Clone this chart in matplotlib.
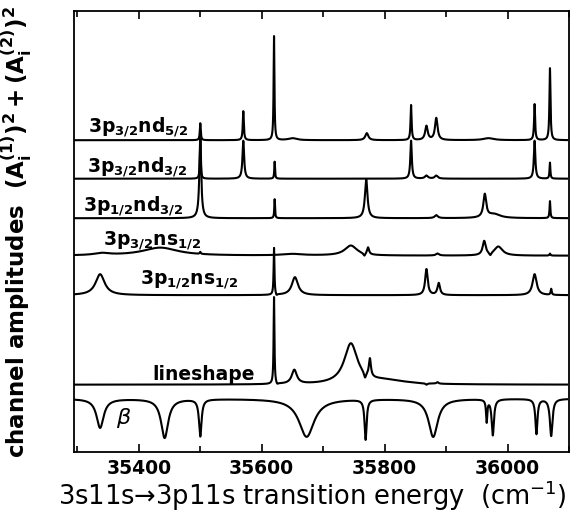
import numpy as np
import matplotlib
matplotlib.use("Agg")
import matplotlib.pyplot as plt

plt.rcParams['font.family'] = ['DejaVu Sans']
plt.rcParams['mathtext.default'] = 'regular'

# ---- data: peaks (center cm^-1, height, half-width) ----
x_range = (35295, 36097)

nd52_center = [35500, 35570, 35620, 35650, 35771, 35843, 35868, 35884, 35969, 36044, 36069]
nd52_height = [17, 29, 104, 2, 7, 35, 14, 22, 2, 36, 72]
nd52_width  = [0.9, 1.0, 0.8, 8, 3, 1.0, 2.5, 2.5, 10, 1.0, 1.0]

nd32a_center = [35500, 35570, 35621, 35843, 35868, 35884, 36044, 36069]
nd32a_height = [40, 38, 17, 38, 3, 3, 38, 16]
nd32a_width  = [0.8, 1.6, 0.7, 1.4, 3, 3, 1.4, 0.8]

nd32b_center = [35500, 35621, 35770, 35884, 35963, 35978, 36069]
nd32b_height = [80, 19, 39, 3, 23, 4, 17]
nd32b_width  = [1.8, 0.7, 2.5, 3, 2.8, 12, 0.8]

ns32_center = [35340, 35435, 35500, 35650, 35745, 35767, 35773, 35886, 35962, 35972, 35985, 36069]
ns32_height = [2, 8, 2, 1.5, 10, -3, 7, 2, 14, -3, 9, 2]
ns32_width  = [15, 35, 1, 20, 12, 2, 2, 3, 3, 2, 8, 1]

ns12_center = [35337, 35620, 35624, 35654, 35868, 35888, 36044, 36071]
ns12_height = [21, 47, -2, 18, 26, 12, 21, 6]
ns12_width  = [9, 0.8, 1.5, 6, 2.5, 2.5, 4, 1]

line_center = [35620, 35625, 35653, 35745, 35800, 35768, 35776, 35868, 35886]
line_height = [87, -2, 14, 40, 4, -6, 18, -1.5, 1.5]
line_width  = [0.8, 2, 5, 13, 40, 2, 2, 2, 2]

beta_center = [35337, 35442, 35500, 35673, 35769, 35879, 35966, 35976, 36047, 36071]
beta_height = [-29, -39, -37, -38, -40, -38, -22, -36, -35, -37]
beta_width  = [7, 7, 2.5, 15, 2, 9, 1.2, 2.2, 2, 2.5]

labels = ['3p$_{3/2}$nd$_{5/2}$', '3p$_{3/2}$nd$_{3/2}$', '3p$_{1/2}$nd$_{3/2}$',
          '3p$_{3/2}$ns$_{1/2}$', '3p$_{1/2}$ns$_{1/2}$', 'lineshape', 'β']
offsets = [311.5, 273, 233.5, 196, 156.5, 67, 53]

xticks_major = [35400, 35600, 35800, 36000]

# ---- build curves ----
E = np.linspace(x_range[0], x_range[1], 16001)

def profile(c, h, w):
    y = np.zeros_like(E)
    for ci, hi, wi in zip(c, h, w):
        y += hi / (1.0 + ((E - ci) / wi) ** 2)
    return y

series = [
    (nd52_center, nd52_height, nd52_width),
    (nd32a_center, nd32a_height, nd32a_width),
    (nd32b_center, nd32b_height, nd32b_width),
    (ns32_center, ns32_height, ns32_width),
    (ns12_center, ns12_height, ns12_width),
    (line_center, line_height, line_width),
    (beta_center, beta_height, beta_width),
]

fig = plt.figure(figsize=(5.77, 5.18), dpi=100)
ax = fig.add_axes([74.3/577, (518-451.7)/518, (569-74.3)/577, (451.7-11)/518])

for (c, h, w), off in zip(series, offsets):
    ax.plot(E, off + profile(c, h, w), color='black', lw=1.5, solid_joinstyle='round')

ax.set_xlim(*x_range)
ax.set_ylim(0, 440.7)

# trace labels
lab_pos = [(88, 127), (87, 167), (83, 206), (103, 241), (140, 280), (152, 375), (116, 418)]
for (px, py), lab in zip(lab_pos, labels):
    if lab == 'β':
        fig.text(px/577, 1 - py/518, lab, fontsize=16, style='italic', va='center', ha='left')
    else:
        fig.text(px/577, 1 - py/518, lab, fontsize=13.5, fontweight='bold', va='center', ha='left')

ax.set_yticks([])
ax.set_xticks(xticks_major)
ax.set_xticks([35300, 35500, 35700, 35900, 36100], minor=True)
ax.tick_params(axis='x', which='both', direction='in', top=True, bottom=True,
               labelsize=13.5, pad=5, width=1.2)
ax.tick_params(axis='x', which='major', length=6)
ax.tick_params(axis='x', which='minor', length=4)
for t in ax.get_xticklabels():
    t.set_fontweight('bold')
for s in ax.spines.values():
    s.set_linewidth(1.3)

fig.text(312/577, 1 - 496/518, '3s11s→3p11s transition energy  (cm$^{-1}$)',
         fontsize=18.5, ha='center', va='center')
fig.text(17/577, 1 - 232/518,
         'channel amplitudes  $(A_i^{(1)})^2 + (A_i^{(2)})^2$',
         fontsize=16.5, fontweight='bold', rotation=90, ha='center', va='center')

fig.savefig('out.png', dpi=100)
